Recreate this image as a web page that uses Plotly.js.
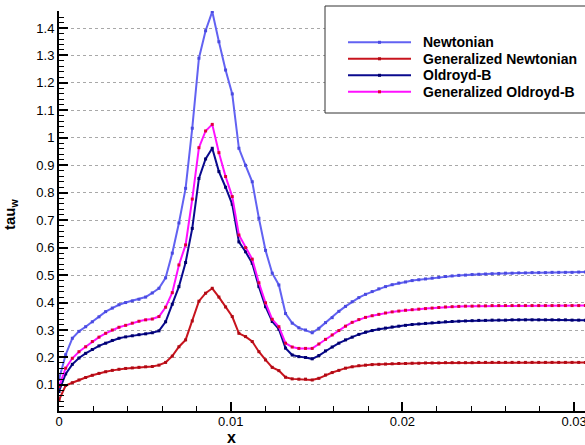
<!DOCTYPE html>
<html>
<head>
<meta charset="utf-8">
<script src="https://cdn.plot.ly/plotly-3.0.1.min.js"></script>
<style>html,body{margin:0;padding:0;background:#fff;}#chart{width:585px;height:445px;}</style>
</head>
<body>
<div id="chart"></div>
<script>
const xVals = [0,0.000388,0.000776,0.001164,0.001552,0.00194,0.002328,0.002716,0.003104,0.003492,
0.00388,0.004268,0.004656,0.005044,0.005432,0.00582,0.006208,0.006596,0.006984,0.007372,
0.00776,0.008148,0.008536,0.008924,0.009312,0.0097,0.010088,0.010476,0.010864,0.011252,
0.01164,0.012028,0.012416,0.012804,0.013192,0.01358,0.013968,0.014356,0.014744,0.015132,
0.01552,0.015908,0.016296,0.016684,0.017072,0.01746,0.017848,0.018236,0.018624,0.019012,
0.0194,0.019788,0.020176,0.020564,0.020952,0.02134,0.021728,0.022116,0.022504,0.022892,
0.02328,0.023668,0.024056,0.024444,0.024832,0.02522,0.025608,0.025996,0.026384,0.026772,
0.02716,0.027548,0.027936,0.028324,0.028712,0.0291,0.029488,0.029876,0.030264,0.030652];

const newtonian = [0.12,0.21,0.27,0.295,0.312,0.33,0.348,0.367,0.38,0.392,
0.40,0.406,0.412,0.42,0.435,0.452,0.49,0.58,0.69,0.816,
1.035,1.29,1.39,1.46,1.35,1.247,1.16,0.962,0.90,0.84,
0.707,0.59,0.507,0.464,0.36,0.325,0.308,0.30,0.29,0.306,
0.327,0.345,0.368,0.386,0.403,0.418,0.43,0.44,0.45,0.458,
0.465,0.471,0.475,0.48,0.483,0.486,0.489,0.492,0.495,0.497,
0.499,0.50,0.502,0.503,0.504,0.505,0.506,0.507,0.507,0.508,
0.508,0.509,0.509,0.509,0.51,0.51,0.51,0.51,0.511,0.511];

const genNewtonian = [0.045,0.098,0.108,0.118,0.127,0.135,0.142,0.148,0.153,0.157,
0.16,0.162,0.164,0.166,0.167,0.172,0.182,0.205,0.239,0.264,
0.333,0.405,0.434,0.452,0.42,0.384,0.349,0.288,0.276,0.258,
0.221,0.191,0.164,0.152,0.128,0.122,0.121,0.121,0.118,0.124,
0.136,0.145,0.153,0.161,0.166,0.17,0.172,0.174,0.175,0.176,
0.177,0.178,0.178,0.179,0.179,0.18,0.18,0.18,0.181,0.181,
0.181,0.181,0.181,0.182,0.182,0.182,0.182,0.182,0.182,0.182,
0.182,0.182,0.182,0.182,0.182,0.182,0.182,0.182,0.182,0.182];

const oldroydB = [0.076,0.14,0.175,0.198,0.215,0.229,0.242,0.252,0.262,0.27,
0.275,0.279,0.283,0.286,0.29,0.297,0.33,0.394,0.458,0.546,
0.67,0.852,0.923,0.962,0.877,0.82,0.758,0.621,0.585,0.543,
0.458,0.385,0.331,0.303,0.234,0.209,0.203,0.2,0.195,0.207,
0.224,0.238,0.252,0.264,0.274,0.284,0.292,0.298,0.303,0.307,
0.311,0.314,0.317,0.32,0.322,0.324,0.326,0.328,0.33,0.331,
0.332,0.333,0.334,0.335,0.335,0.336,0.336,0.336,0.337,0.337,
0.337,0.337,0.337,0.337,0.337,0.337,0.337,0.336,0.336,0.336];

const genOldroydB = [0.094,0.161,0.197,0.221,0.239,0.258,0.274,0.288,0.30,0.31,
0.317,0.325,0.332,0.337,0.34,0.349,0.383,0.436,0.537,0.61,
0.777,0.964,1.025,1.049,0.946,0.859,0.786,0.646,0.60,0.558,
0.472,0.399,0.339,0.312,0.252,0.238,0.233,0.233,0.233,0.249,
0.266,0.282,0.298,0.314,0.328,0.338,0.346,0.352,0.357,0.362,
0.366,0.369,0.372,0.374,0.376,0.378,0.38,0.382,0.384,0.385,
0.386,0.387,0.387,0.388,0.388,0.389,0.389,0.389,0.389,0.389,
0.389,0.389,0.389,0.389,0.389,0.389,0.389,0.389,0.389,0.389];

const seriesNames = ["Newtonian", "Generalized Newtonian", "Oldroyd-B", "Generalized Oldroyd-B"];
const seriesData = [newtonian, genNewtonian, oldroydB, genOldroydB];
const lineColors = ["#6262f2", "#c8141e", "#0a0a8e", "#ff10ff"];
const markerColors = ["#4a4ae0", "#b00a14", "#00006e", "#e0003a"];

const FONT = "Liberation Sans, Arial, Helvetica, sans-serif";

// plot area in pixels
const L = 59, R = 585, T = 11, B = 411;
const px = x => (x - L) / (R - L);
const py = y => (B - y) / (B - T);

const traces = seriesData.map((ys, i) => ({
  x: xVals, y: ys, type: "scatter", mode: "lines+markers",
  name: seriesNames[i],
  line: {color: lineColors[i], width: 2},
  marker: {color: markerColors[i], size: 3, symbol: "square"},
  showlegend: false
}));

// custom legend (Tecplot-style long line samples)
const shapes = [{
  type: "rect", xref: "paper", yref: "paper",
  x0: px(325), x1: px(600), y0: py(113), y1: py(6),
  line: {color: "#333", width: 1}, fillcolor: "#fff", layer: "above"
}];
const annotations = [];
const rowY = [42.3, 58.8, 75.3, 91.8];
seriesNames.forEach((n, i) => {
  shapes.push({type: "line", xref: "paper", yref: "paper",
    x0: px(348), x1: px(411), y0: py(rowY[i]), y1: py(rowY[i]),
    line: {color: lineColors[i], width: 2}, layer: "above"});
  shapes.push({type: "rect", xref: "paper", yref: "paper",
    x0: px(378), x1: px(381), y0: py(rowY[i] + 1.5), y1: py(rowY[i] - 1.5),
    line: {width: 0}, fillcolor: markerColors[i], layer: "above"});
  annotations.push({xref: "paper", yref: "paper", x: px(421), y: py(rowY[i]),
    xanchor: "left", yanchor: "middle", showarrow: false,
    text: "<b>" + n + "</b>", font: {family: FONT, size: 14, color: "#000"}});
});
annotations.push({xref: "paper", yref: "paper", x: px(231), y: py(437),
  xanchor: "center", yanchor: "middle", showarrow: false,
  text: "<b>x</b>", font: {family: FONT, size: 16, color: "#000"}});
annotations.push({xref: "paper", yref: "paper", x: px(10), y: py(214),
  xanchor: "center", yanchor: "middle", showarrow: false, textangle: -90,
  text: "<b>tau<sub>w</sub></b>", font: {family: FONT, size: 15, color: "#000"}});

const layout = {
  width: 585, height: 445,
  margin: {l: L, r: 585 - R, t: T, b: 445 - B, pad: 0},
  paper_bgcolor: "#fff", plot_bgcolor: "#fff",
  showlegend: false,
  font: {family: FONT, size: 13, color: "#000"},
  xaxis: {
    range: [0, 0.03063], tickmode: "linear", tick0: 0, dtick: 0.01,
    ticks: "inside", ticklen: 9, tickwidth: 2, tickcolor: "#000",
    showline: true, linecolor: "#000", linewidth: 2,
    showgrid: false, zeroline: false,
    ticklabeloverflow: "allow", ticklabelstandoff: -3,
    tickfont: {family: FONT, size: 13, color: "#000"},
    minor: {tickmode: "linear", tick0: 0, dtick: 0.002, ticks: "inside", ticklen: 5, tickwidth: 1, tickcolor: "#000", showgrid: false}
  },
  yaxis: {
    range: [0.005, 1.462], tickmode: "linear", tick0: 0, dtick: 0.1,
    ticks: "inside", ticklen: 9, tickwidth: 2, tickcolor: "#000",
    showline: true, linecolor: "#000", linewidth: 2,
    showgrid: true, gridcolor: "#a8a8a8", gridwidth: 1, griddash: "dot",
    zeroline: false,
    tickfont: {family: FONT, size: 13, color: "#000"},
    minor: {tickmode: "linear", tick0: 0, dtick: 0.02, ticks: "inside", ticklen: 5, tickwidth: 1, tickcolor: "#000", showgrid: false}
  },
  shapes: shapes,
  annotations: annotations
};

Plotly.newPlot("chart", traces, layout, {staticPlot: true, displayModeBar: false});
</script>
</body>
</html>
